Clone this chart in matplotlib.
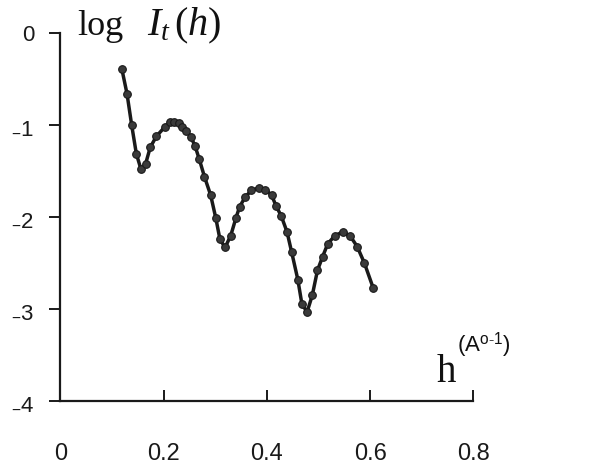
import matplotlib
matplotlib.use("Agg")
import matplotlib.pyplot as plt

plt.rcParams['mathtext.fontset'] = 'custom'
plt.rcParams['mathtext.rm'] = 'Liberation Serif'
plt.rcParams['mathtext.it'] = 'Liberation Serif:italic'
plt.rcParams['mathtext.sf'] = 'Liberation Sans'

# data
h = [0.119, 0.129, 0.138, 0.147, 0.156, 0.165, 0.174, 0.186, 0.202, 0.212,
     0.220, 0.229, 0.236, 0.244, 0.253, 0.261, 0.269, 0.279, 0.291, 0.301,
     0.309, 0.319, 0.330, 0.340, 0.347, 0.358, 0.370, 0.385, 0.397, 0.409,
     0.418, 0.428, 0.439, 0.448, 0.460, 0.468, 0.478, 0.488, 0.498, 0.508,
     0.518, 0.532, 0.548, 0.562, 0.575, 0.589, 0.606]
log_it = [-0.39, -0.66, -1.00, -1.31, -1.48, -1.42, -1.24, -1.12, -1.02, -0.97,
          -0.96, -0.98, -1.02, -1.06, -1.13, -1.23, -1.37, -1.56, -1.76, -2.01,
          -2.24, -2.33, -2.20, -2.01, -1.89, -1.78, -1.71, -1.68, -1.70, -1.76,
          -1.88, -1.99, -2.16, -2.38, -2.68, -2.95, -3.03, -2.85, -2.58, -2.43,
          -2.29, -2.20, -2.16, -2.21, -2.32, -2.50, -2.77]

x_ticks = [0, 0.2, 0.4, 0.6, 0.8]
x_ticklabels = ["0", "0.2", "0.4", "0.6", "0.8"]
y_ticks = [0, -1, -2, -3, -4]
y_ticklabels = ["0", r"$_{\mathsf{-}}\mathsf{1}$", r"$_{\mathsf{-}}\mathsf{2}$",
                r"$_{\mathsf{-}}\mathsf{3}$", r"$_{\mathsf{-}}\mathsf{4}$"]

fig = plt.figure(figsize=(6.0, 4.68), dpi=100)
ax = fig.add_axes([0.1008, 0.1432, 0.688, 0.7857])

ax.plot(h, log_it, color='#1a1a1a', lw=2.5, marker='o', ms=5.5,
        markerfacecolor='#3a3a3a', markeredgecolor='#1a1a1a', markeredgewidth=0.8)

ax.set_xlim(0, 0.8)
ax.set_ylim(-4, 0)
for s in ['top', 'right']:
    ax.spines[s].set_visible(False)
for s in ['left', 'bottom']:
    ax.spines[s].set_linewidth(1.6)
    ax.spines[s].set_color('#1a1a1a')

ax.set_xticks(x_ticks)
ax.set_xticklabels(x_ticklabels, fontsize=17, family='Liberation Sans')
ax.set_yticks(y_ticks)
ax.set_yticklabels(y_ticklabels, fontsize=16, family='Liberation Sans')
ax.tick_params(axis='x', direction='in', length=8, width=1.4, pad=30, colors='#1a1a1a')
ax.tick_params(axis='y', direction='out', length=8, width=1.4, pad=11, colors='#1a1a1a')

fig.text(0.128, 0.925, "log", fontsize=26, family='Liberation Serif', ha='left', va='baseline', color='#111111')
fig.text(0.245, 0.925, r"$I_t\,(h)$", fontsize=29, ha='left', va='baseline', color='#111111')
fig.text(0.728, 0.1838, "h", fontsize=28, family='Liberation Serif', ha='left', va='baseline', color='#111111')
fig.text(0.762, 0.248, r"$\mathsf{(A}^{\mathsf{o\text{-}1}}\mathsf{)}$", fontsize=16, ha='left', va='baseline', color='#111111')

fig.savefig("out.png", dpi=100)
